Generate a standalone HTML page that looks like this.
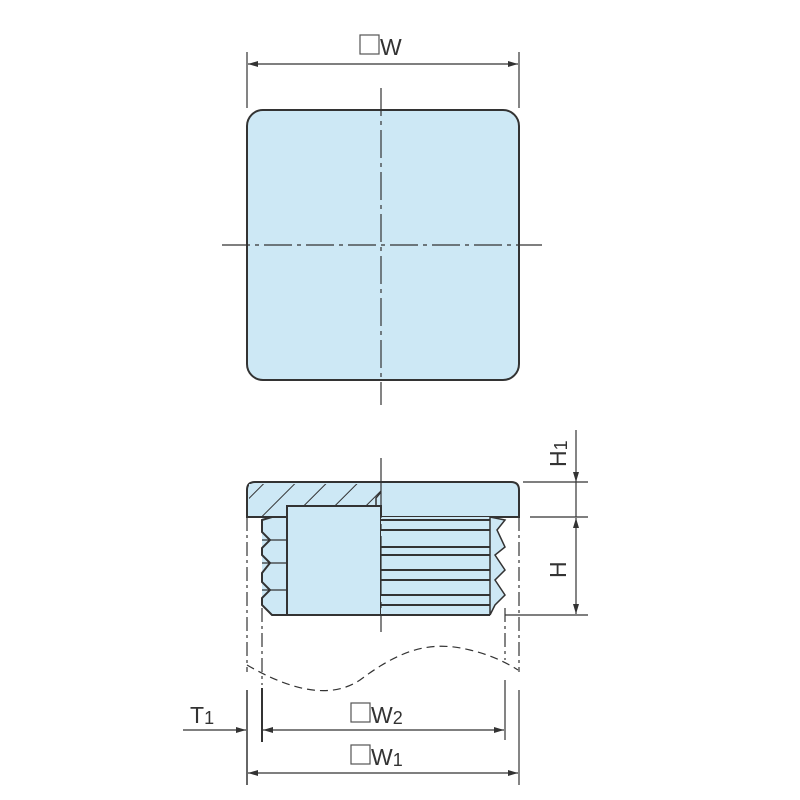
<!DOCTYPE html>
<html><head><style>body{margin:0;background:#fff}svg{display:block}text{font-family:"Liberation Sans",sans-serif;fill:#333}</style></head>
<body>
<svg width="800" height="800" viewBox="0 0 800 800" xmlns="http://www.w3.org/2000/svg">
<defs>
<marker id="a" viewBox="0 0 10 6" refX="10" refY="3" markerWidth="10" markerHeight="6" orient="auto-start-reverse" markerUnits="userSpaceOnUse"><path d="M0,0L10,3L0,6z" fill="#333"/></marker>
<pattern id="h" width="22" height="22" patternUnits="userSpaceOnUse" patternTransform="rotate(45)"><rect width="22" height="22" fill="#cde8f5"/><line x1="0" y1="0" x2="0" y2="22" stroke="#333" stroke-width="2"/></pattern>
</defs>
<g stroke="#333" fill="none" stroke-width="1.2">
<rect x="247" y="110" width="272" height="270" rx="16" fill="#cde8f5" stroke-width="2"/>
<line x1="381" y1="88" x2="381" y2="405" stroke-dasharray="28,5,4,5"/>
<line x1="222" y1="245" x2="542" y2="245" stroke-dasharray="28,5,4,5"/>
<line x1="247" y1="52" x2="247" y2="108"/><line x1="519" y1="52" x2="519" y2="108"/>
<line x1="248" y1="64" x2="518" y2="64" marker-start="url(#a)" marker-end="url(#a)"/>
<path d="M247,517 L247,490 Q247,482 255,482 L511,482 Q519,482 519,490 L519,517 Z" fill="#cde8f5" stroke-width="2"/>
<path d="M249,484 L381,484 L381,506 L287,506 L287,615 L271,615 L262,605 L262,517 L249,517 Z" fill="url(#h)" stroke="none"/>
<path d="M247,517 L519,517" stroke-width="2"/>
<rect x="287" y="506" width="94" height="109" fill="#cde8f5" stroke-width="2"/>
<path d="M381,506 L376,506 L376,498 L381,492" stroke-width="1.5"/>
<path d="M272,517 L262,520 L262,532 L270,540 L262,548 L262,555 L270,563 L262,573 L262,582 L270,590 L262,598 L262,605 L272,615 L287,615 L287,517 Z" fill="#cde8f5" stroke-width="2"/>
<path d="M262,540 L287,540 M262,563 L287,563 M262,590 L287,590" stroke-width="1.2"/>
<rect x="381" y="517" width="109" height="98" fill="#cde8f5" stroke="none"/>
<path d="M381,520 L490,520 M381,530 L497,530 M381,547 L503,547 M381,555 L495,555 M381,570 L503,570 M381,580 L495,580 M381,595 L503,595 M381,605 L495,605 M381,615 L490,615" stroke-width="2"/>
<path d="M490,517 L490,615 M490,517 L505,520 L497,530 L505,547 L495,555 L505,570 L495,580 L505,595 L495,605 L490,615" stroke-width="1.5" fill="#cde8f5"/>
<line x1="381" y1="458" x2="381" y2="632" stroke-dasharray="60,6,6,6"/>
<line x1="523" y1="482" x2="588" y2="482"/><line x1="530" y1="517" x2="588" y2="517"/><line x1="505" y1="615" x2="588" y2="615"/>
<line x1="576" y1="430" x2="576" y2="482" marker-end="url(#a)"/>
<line x1="576" y1="517" x2="576" y2="482"/>
<line x1="576" y1="518" x2="576" y2="614" marker-start="url(#a)" marker-end="url(#a)"/>
<g stroke-dasharray="14,4,3,4">
<line x1="247" y1="517" x2="247" y2="672"/><line x1="262" y1="608" x2="262" y2="685"/>
<line x1="505" y1="608" x2="505" y2="660"/><line x1="519" y1="517" x2="519" y2="672"/>
</g>
<path d="M247,665 C290,690 330,700 360,680 C400,650 430,640 470,650 C495,656 510,665 518,670" stroke-dasharray="8,5"/>
<line x1="247" y1="690" x2="247" y2="785" stroke-width="1.5"/>
<line x1="262" y1="688" x2="262" y2="742" stroke-width="2"/>
<line x1="505" y1="680" x2="505" y2="740"/>
<line x1="519" y1="690" x2="519" y2="785"/>
<line x1="183" y1="730" x2="246" y2="730" marker-end="url(#a)"/>
<line x1="263" y1="730" x2="504" y2="730" marker-start="url(#a)" marker-end="url(#a)"/>
<line x1="248" y1="773" x2="518" y2="773" marker-start="url(#a)" marker-end="url(#a)"/>
<rect x="360" y="35" width="19" height="19" stroke="#555"/>
<rect x="351" y="703" width="19" height="19" stroke="#555"/>
<rect x="351" y="745" width="19" height="19" stroke="#555"/>
</g>
<text x="380" y="55" font-size="23">W</text>
<text x="371" y="723" font-size="23">W<tspan font-size="18" dy="1">2</tspan></text>
<text x="371" y="765" font-size="23">W<tspan font-size="18" dy="1">1</tspan></text>
<text x="190" y="723" font-size="23">T<tspan font-size="18" dy="1">1</tspan></text>
<text transform="translate(566,467) rotate(-90)" font-size="23">H<tspan font-size="18" dy="1">1</tspan></text>
<text transform="translate(566,578) rotate(-90)" font-size="23">H</text>
</svg>
</body></html>
